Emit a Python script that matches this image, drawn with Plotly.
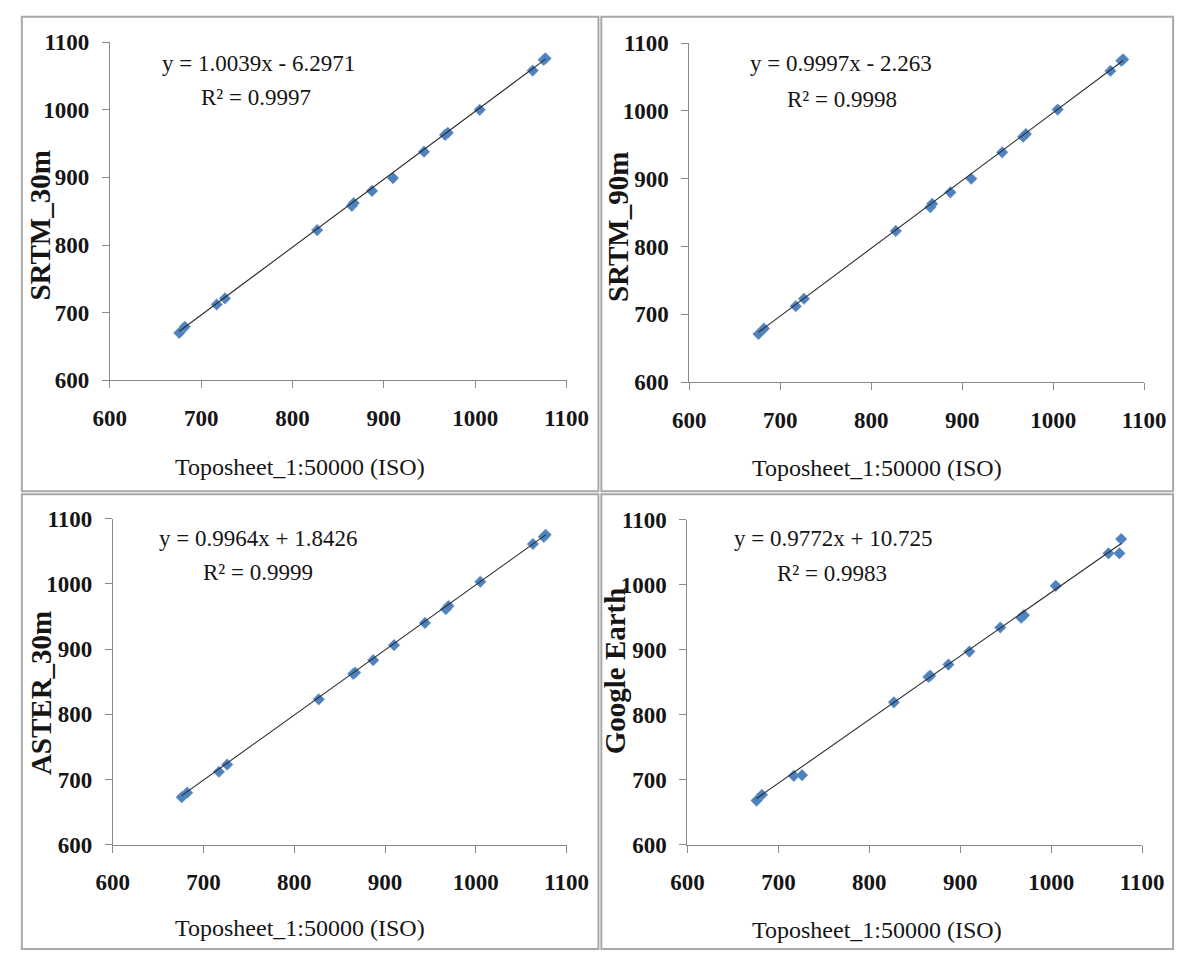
import plotly.graph_objects as go

# Reference elevations from the 1:50000 toposheet (m)
topo = [676, 682, 717, 726, 827, 865, 867, 887, 910, 944, 967, 970, 1005, 1063, 1075, 1077]

# Elevations of the same points from each DEM source (m)
srtm_30 = [670, 679, 712, 721, 822, 858, 862, 880, 899, 938, 963, 966, 1000, 1058, 1074, 1076]
srtm_90 = [671, 679, 712, 723, 823, 858, 863, 880, 900, 939, 962, 966, 1002, 1059, 1074, 1076]
aster_30 = [673, 680, 712, 723, 823, 862, 864, 883, 906, 940, 961, 966, 1003, 1061, 1072, 1075]
google_earth = [668, 677, 706, 707, 819, 858, 860, 877, 897, 934, 949, 953, 998, 1048, 1048, 1070]

# Linear trendline coefficients and R² for each source
panels = [
    dict(name="SRTM_30m", y=srtm_30, slope=1.0039, icpt=-6.2971, r2="0.9997"),
    dict(name="SRTM_90m", y=srtm_90, slope=0.9997, icpt=-2.263, r2="0.9998"),
    dict(name="ASTER_30m", y=aster_30, slope=0.9964, icpt=1.8426, r2="0.9999"),
    dict(name="Google Earth", y=google_earth, slope=0.9772, icpt=10.725, r2="0.9983"),
]

x_title = "Toposheet_1:50000 (ISO)"
tick_vals = [600, 700, 800, 900, 1000, 1100]

W, H = 1198, 965

# plot-area boxes in pixels: (left, right, top, bottom)
boxes = [
    (96, 568, 31, 378),
    (695, 1165, 32, 380),
    (99, 568, 520, 855),
    (693, 1163, 521, 855),
]
# outer frames around each chart: (left, right, top, bottom)
frames = [
    (5, 601, 5, 492),
    (604, 1195, 5, 492),
    (5, 601, 495, 962),
    (604, 1195, 495, 962),
]
# text anchors in pixels (centre points)
eq_pos = [(250, 53), (852, 53), (249, 540), (843, 540)]
r2_pos = [(247, 88), (853, 90), (249, 575), (842, 576)]
xt_pos = [(293, 467), (889, 468), (293, 940), (889, 942)]
yt_pos = [(24, 219), (622, 221), (25, 699), (619, 676)]

SERIF = "Liberation Serif"
AXIS_GREY = "#8a8a8a"
INK = "#151515"

fig = go.Figure()
layout = dict(
    width=W, height=H,
    margin=dict(l=0, r=0, t=0, b=0),
    paper_bgcolor="white", plot_bgcolor="white",
    showlegend=False,
    shapes=[], annotations=[],
)


def fx(px):
    return px / W


def fy(py):
    return 1 - py / H


def note(text, pos, size, bold=False, angle=0):
    return dict(
        text=text, xref="paper", yref="paper",
        x=fx(pos[0]), y=fy(pos[1]), showarrow=False,
        xanchor="center", yanchor="middle", textangle=angle,
        font=dict(family=SERIF, size=size, color=INK,
                  weight="bold" if bold else "normal"),
    )


for i, p in enumerate(panels):
    n = "" if i == 0 else str(i + 1)
    xa, ya = "x" + n, "y" + n
    l, r, t, b = boxes[i]

    fig.add_trace(go.Scatter(
        x=topo, y=p["y"], mode="markers", xaxis=xa, yaxis=ya,
        marker=dict(symbol="diamond", size=9, color="#4f81bd",
                    line=dict(width=0.5, color="#74a3da")),
        hoverinfo="x+y",
    ))
    x0, x1 = min(topo), max(topo)
    fig.add_trace(go.Scatter(
        x=[x0, x1],
        y=[p["slope"] * x0 + p["icpt"], p["slope"] * x1 + p["icpt"]],
        mode="lines", xaxis=xa, yaxis=ya,
        line=dict(color="#2b2b2b", width=1.1),
        hoverinfo="skip",
    ))

    axis_common = dict(
        range=[600, 1100], tickvals=tick_vals, showgrid=False, zeroline=False,
        showline=True, linecolor=AXIS_GREY, linewidth=1,
        ticks="outside", ticklen=7, tickcolor=AXIS_GREY, tickwidth=1,
        tickfont=dict(family=SERIF, size=23, color=INK, weight="bold"),
    )
    layout["xaxis" + n] = dict(axis_common, domain=[fx(l), fx(r)], anchor=ya,
                               ticklabelstandoff=10)
    layout["yaxis" + n] = dict(axis_common, domain=[fy(b), fy(t)], anchor=xa,
                               ticklabelstandoff=8)

    fl, fr, ft, fb = frames[i]
    layout["shapes"].append(dict(
        type="rect", xref="paper", yref="paper",
        x0=fx(fl), x1=fx(fr), y0=fy(fb), y1=fy(ft),
        line=dict(color="#a8a8a8", width=2),
    ))

    sign = "-" if p["icpt"] < 0 else "+"
    eq = f"y = {p['slope']:.4f}x {sign} {abs(p['icpt']):g}"
    layout["annotations"] += [
        note(eq, eq_pos[i], 23),
        note(f"R² = {p['r2']}", r2_pos[i], 23),
        note(x_title, xt_pos[i], 24),
        note(p["name"], yt_pos[i], 29, bold=True, angle=-90),
    ]

fig.update_layout(**layout)
fig.write_html("out.html")
